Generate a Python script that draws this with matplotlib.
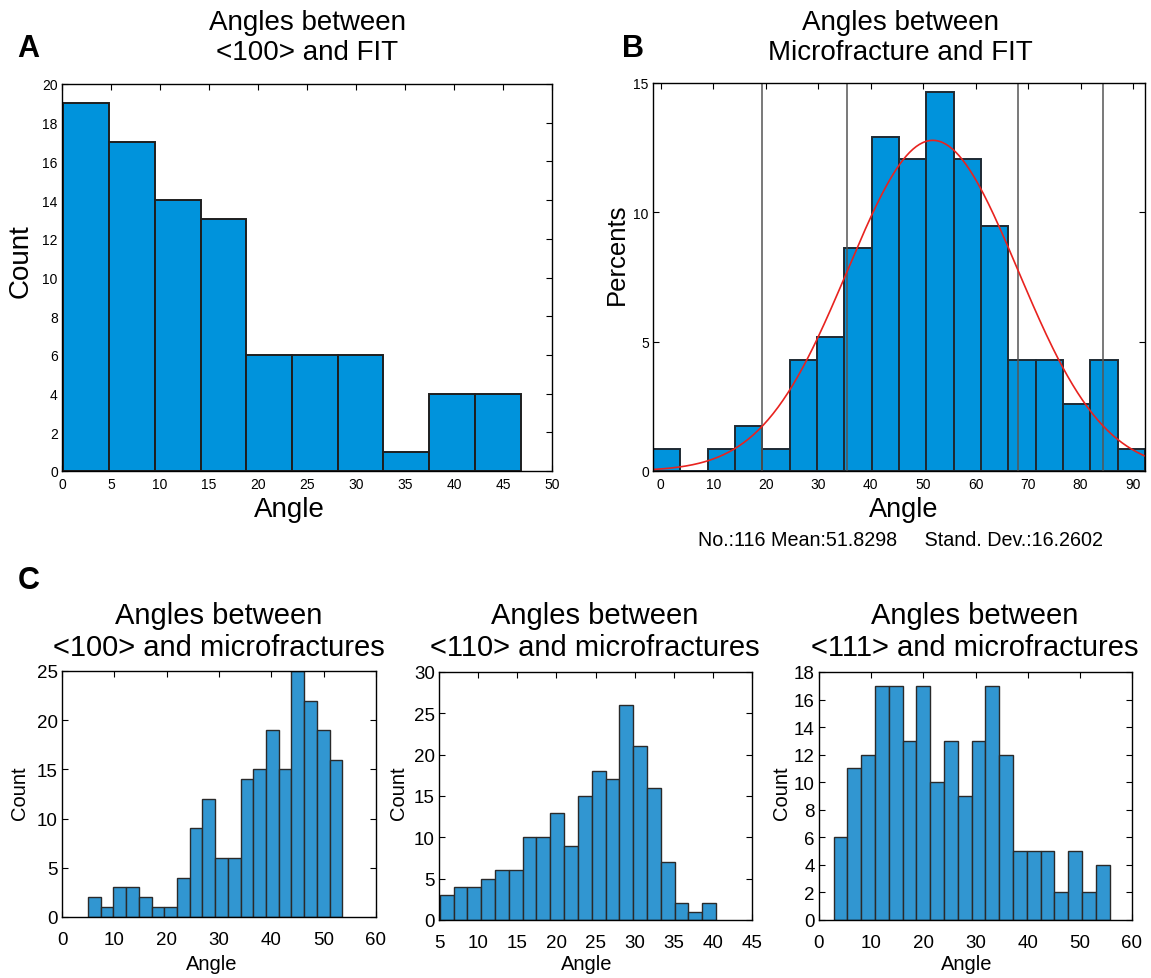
import numpy as np
import matplotlib
matplotlib.use("Agg")
import matplotlib.pyplot as plt

plt.rcParams['font.family'] = ['Liberation Sans', 'DejaVu Sans']

# ===============================
# Datos
# ===============================

# A: <100> vs FIT (cuentas)
a_start, a_width = 0.15, 4.665
a_counts = [19, 17, 14, 13, 6, 6, 6, 1, 4, 4]

# B: microfractura vs FIT (cuentas -> porcentaje)
b_start, b_width = -1.5, 5.21
b_counts = [1, 0, 1, 2, 1, 5, 6, 10, 15, 14, 17, 14, 11, 5, 5, 3, 5, 1]
b_n = 116
b_mean = 51.8298
b_std = 16.2602

# C: tres histogramas
c100_start, c100_width = 4.97, 2.43
c100_counts = [2, 1, 3, 3, 2, 1, 1, 4, 9, 12, 6, 6, 14, 15, 19, 15, 25, 22, 19, 16]

c110_start, c110_width = 5.09, 1.766
c110_counts = [3, 4, 4, 5, 6, 6, 10, 10, 13, 9, 15, 18, 17, 26, 21, 16, 7, 2, 1, 2]

c111_start, c111_width = 2.81, 2.645
c111_counts = [6, 11, 12, 17, 17, 13, 17, 10, 13, 9, 13, 17, 12, 5, 5, 5, 2, 5, 2, 4]

# ===============================
# Figura
# ===============================
W, H = 1151, 979
fig = plt.figure(figsize=(W / 100, H / 100), dpi=100)


def px_axes(l, t, r, b):
    return fig.add_axes([l / W, 1 - b / H, (r - l) / W, (b - t) / H])


def px_text(x, y, s, **kw):
    kw.setdefault("ha", "center")
    kw.setdefault("va", "center")
    return fig.text(x / W, 1 - y / H, s, **kw)


def hist_bars(ax, start, width, counts, color, edge, lw):
    counts = np.asarray(counts, dtype=float)
    left = start + width * np.arange(len(counts))
    ax.bar(left, counts, width=width, align="edge", color=color,
           edgecolor=edge, linewidth=lw, zorder=2)


def style(ax, size, xpad=3):
    ax.tick_params(direction="in", top=True, right=True, labelsize=size,
                   length=4, width=0.8, pad=3)
    ax.tick_params(axis="x", pad=xpad)
    for s in ax.spines.values():
        s.set_linewidth(1.0)
        s.set_zorder(5)


blue_ab = "#0093dc"
blue_c = "#3196d1"

# ---- Panel A
axA = px_axes(62, 85, 552, 472)
hist_bars(axA, a_start, a_width, a_counts, blue_ab, "#1e1e1e", 1.4)
axA.set_xlim(0, 50)
axA.set_ylim(0, 20)
axA.set_xticks(np.arange(0, 51, 5))
axA.set_yticks(np.arange(0, 21, 2))
style(axA, 10, xpad=4)
px_text(289, 510, "Angle", fontsize=20)
px_text(21, 261, "Count", fontsize=20, rotation=90)

# ---- Panel B
axB = px_axes(653, 84, 1145, 472)
b_pct = np.asarray(b_counts) / b_n * 100
hist_bars(axB, b_start, b_width, b_pct, blue_ab, "#1e2a33", 1.4)
for k in [-2, -1, 1, 2]:
    axB.axvline(b_mean + k * b_std, color="#555555", lw=1.1, zorder=3)
xx = np.linspace(b_start, b_start + b_width * len(b_counts), 300)
yy = 100 * b_width * np.exp(-0.5 * ((xx - b_mean) / b_std) ** 2) / (b_std * np.sqrt(2 * np.pi))
axB.plot(xx, yy, color="#e8231f", lw=1.2, zorder=4)
axB.set_xlim(b_start, b_start + b_width * len(b_counts))
axB.set_ylim(0, 15)
axB.set_xticks(np.arange(0, 91, 10))
axB.set_yticks([0, 5, 10, 15])
style(axB, 10, xpad=4)
px_text(904, 510, "Angle", fontsize=19.5)
px_text(617, 254, "Percents", fontsize=18.5, rotation=90)
px_text(900, 541, f"No.:{b_n} Mean:{b_mean:.4f}     Stand. Dev.:{b_std:.4f}",
        fontsize=14.2)

# ---- Panel C
c_panels = [
    ((62, 672, 376, 918), c100_start, c100_width, c100_counts, (0, 60), np.arange(0, 61, 10), (0, 25), np.arange(0, 26, 5), "<100>", 219, 20, 212),
    ((439, 673, 752, 921), c110_start, c110_width, c110_counts, (5, 45), np.arange(5, 46, 5), (0, 30), np.arange(0, 31, 5), "<110>", 595, 398, 587),
    ((819, 673, 1132, 921), c111_start, c111_width, c111_counts, (0, 60), np.arange(0, 61, 10), (0, 18), np.arange(0, 19, 2), "<111>", 975, 782, 967),
]
for box, st, wd, cnt, xl, xt, yl, yt, lab, cx, ylab_x, xlab_x in c_panels:
    ax = px_axes(*box)
    hist_bars(ax, st, wd, cnt, blue_c, "#2a2a2a", 1.0)
    ax.set_xlim(*xl)
    ax.set_ylim(*yl)
    ax.set_xticks(xt)
    ax.set_yticks(yt)
    style(ax, 13.5, xpad=10)
    px_text(xlab_x, 965, "Angle", fontsize=14.5)
    px_text(ylab_x, 793, "Count", fontsize=14.5, rotation=90)
    px_text(cx, 632, f"Angles between\n{lab} and microfractures",
            fontsize=21, linespacing=1.2)

# ---- Títulos A y B
px_text(307, 38, "Angles between\n<100> and FIT", fontsize=20, linespacing=1.2)
px_text(900, 38, "Angles between\nMicrofracture and FIT", fontsize=20, linespacing=1.2)

# ---- Letras de panel
px_text(28, 49, "A", fontsize=22, fontweight="bold")
px_text(633, 49, "B", fontsize=22, fontweight="bold")
px_text(29, 581, "C", fontsize=22, fontweight="bold")

fig.savefig("out.png", dpi=100)
